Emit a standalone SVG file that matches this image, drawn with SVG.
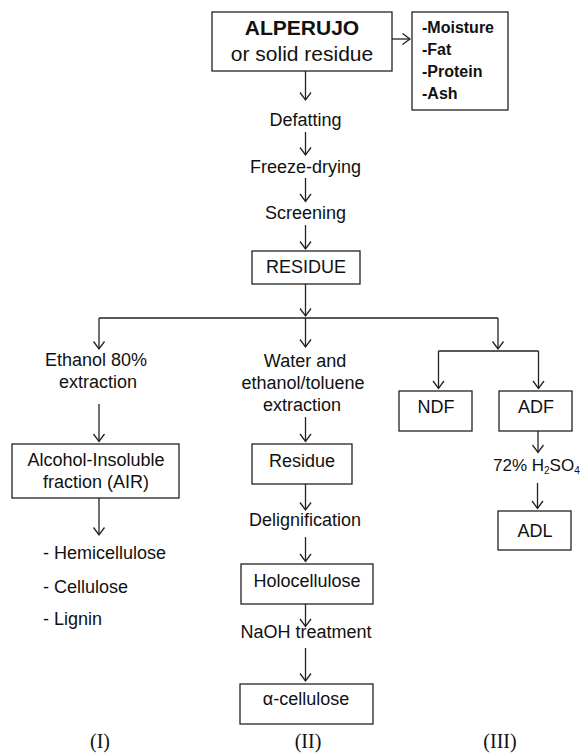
<svg xmlns="http://www.w3.org/2000/svg" width="582" height="755" viewBox="0 0 582 755">
<style>
.bx{fill:#fff;stroke:#222;stroke-width:1.3}
.ln{fill:none;stroke:#222;stroke-width:1.3}
.t{font-family:"Liberation Sans",Arial,sans-serif;font-size:18px;fill:#111;text-anchor:middle}
.tl{font-family:"Liberation Sans",Arial,sans-serif;font-size:18px;fill:#111}
.b{font-family:"Liberation Sans",Arial,sans-serif;font-size:16px;font-weight:bold;fill:#111}
.r{font-family:"Liberation Serif","Times New Roman",serif;font-size:20px;fill:#111;text-anchor:middle}
</style>
<defs>
<marker id="ah" markerUnits="userSpaceOnUse" orient="auto" refX="0" refY="0" markerWidth="20" markerHeight="20" overflow="visible">
<path d="M-7.5,-5.5 L0,0 L-7.5,5.5" fill="none" stroke="#222" stroke-width="1.3"/>
</marker>
</defs>
<g id="connectors" class="ln">
<line x1="305.5" y1="71" x2="305.5" y2="100" marker-end="url(#ah)"/>
<line x1="392" y1="39" x2="410" y2="39" marker-end="url(#ah)"/>
<line x1="305.5" y1="132" x2="305.5" y2="155" marker-end="url(#ah)"/>
<line x1="305.5" y1="178" x2="305.5" y2="201.5" marker-end="url(#ah)"/>
<line x1="305.5" y1="225" x2="305.5" y2="249" marker-end="url(#ah)"/>
<line x1="305.5" y1="284" x2="305.5" y2="316" marker-end="url(#ah)"/>
<line x1="99" y1="318" x2="498" y2="318"/>
<line x1="99" y1="318" x2="99" y2="349" marker-end="url(#ah)"/>
<line x1="305.5" y1="318" x2="305.5" y2="347" marker-end="url(#ah)"/>
<line x1="498" y1="318" x2="498" y2="349" marker-end="url(#ah)"/>
<line x1="438.5" y1="351" x2="538.5" y2="351"/>
<line x1="438.5" y1="351" x2="438.5" y2="388.5" marker-end="url(#ah)"/>
<line x1="538.5" y1="351" x2="538.5" y2="388.5" marker-end="url(#ah)"/>
<line x1="538" y1="431" x2="538" y2="452.5" marker-end="url(#ah)"/>
<line x1="537.5" y1="483" x2="537.5" y2="508.5" marker-end="url(#ah)"/>
<line x1="99" y1="404" x2="99" y2="441.5" marker-end="url(#ah)"/>
<line x1="99" y1="498" x2="99" y2="535" marker-end="url(#ah)"/>
<line x1="305.5" y1="417" x2="305.5" y2="441.5" marker-end="url(#ah)"/>
<line x1="305.5" y1="484" x2="305.5" y2="510" marker-end="url(#ah)"/>
<line x1="305.5" y1="537" x2="305.5" y2="561.5" marker-end="url(#ah)"/>
<line x1="305.5" y1="604" x2="305.5" y2="626.5" marker-end="url(#ah)"/>
<line x1="305.5" y1="648" x2="305.5" y2="681" marker-end="url(#ah)"/>
</g>
<g id="alperujo">
<rect class="bx" x="212" y="12" width="180" height="59"/>
<text class="t" x="302" y="35" style="font-size:21px;font-weight:bold">ALPERUJO</text>
<text class="t" x="302" y="61" style="font-size:21px">or solid residue</text>
</g>
<g id="composition">
<rect class="bx" x="412" y="12" width="96" height="98"/>
<text class="b" x="422" y="33">-Moisture</text>
<text class="b" x="422" y="55">-Fat</text>
<text class="b" x="422" y="77">-Protein</text>
<text class="b" x="422" y="98.5">-Ash</text>
</g>
<g id="defatting"><text class="t" x="305.5" y="126">Defatting</text></g>
<g id="freeze-drying"><text class="t" x="305.5" y="172.5">Freeze-drying</text></g>
<g id="screening"><text class="t" x="305.5" y="219">Screening</text></g>
<g id="residue-main">
<rect class="bx" x="252" y="251" width="108" height="33"/>
<text class="t" x="306" y="273">RESIDUE</text>
</g>
<g id="ethanol">
<text class="t" x="96" y="366">Ethanol 80%</text>
<text class="t" x="98" y="387.5">extraction</text>
</g>
<g id="air">
<rect class="bx" x="12" y="444" width="167" height="54"/>
<text class="t" x="96" y="466">Alcohol-Insoluble</text>
<text class="t" x="96" y="488">fraction (AIR)</text>
</g>
<g id="components">
<text class="tl" x="43" y="559">- Hemicellulose</text>
<text class="tl" x="43" y="592.5">- Cellulose</text>
<text class="tl" x="43" y="625">- Lignin</text>
</g>
<g id="water-ethanol">
<text class="t" x="305" y="367">Water and</text>
<text class="t" x="303" y="389">ethanol/toluene</text>
<text class="t" x="302" y="410.5">extraction</text>
</g>
<g id="residue">
<rect class="bx" x="252" y="444" width="100" height="40"/>
<text class="t" x="302" y="466.5">Residue</text>
</g>
<g id="delignification"><text class="t" x="305" y="526">Delignification</text></g>
<g id="holocellulose">
<rect class="bx" x="241" y="564" width="132" height="40"/>
<text class="t" x="307" y="587">Holocellulose</text>
</g>
<g id="naoh"><text class="t" x="306" y="638">NaOH treatment</text></g>
<g id="alpha-cellulose">
<rect class="bx" x="240" y="684" width="133" height="40"/>
<text class="t" x="306" y="705">α-cellulose</text>
</g>
<g id="ndf">
<rect class="bx" x="399" y="391" width="73" height="40"/>
<text class="t" x="436" y="413">NDF</text>
</g>
<g id="adf">
<rect class="bx" x="499" y="391" width="73" height="40"/>
<text class="t" x="536" y="413">ADF</text>
</g>
<g id="h2so4"><text class="tl" x="493" y="471" style="font-size:17px">72% H<tspan font-size="10" dy="3">2</tspan><tspan dy="-3">SO</tspan><tspan font-size="10" dy="3">4</tspan></text></g>
<g id="adl">
<rect class="bx" x="498" y="511" width="73" height="39"/>
<text class="t" x="535" y="537">ADL</text>
</g>
<g id="labels">
<text class="r" x="100" y="748">(I)</text>
<text class="r" x="308" y="748">(II)</text>
<text class="r" x="500" y="748">(III)</text>
</g>
</svg>
